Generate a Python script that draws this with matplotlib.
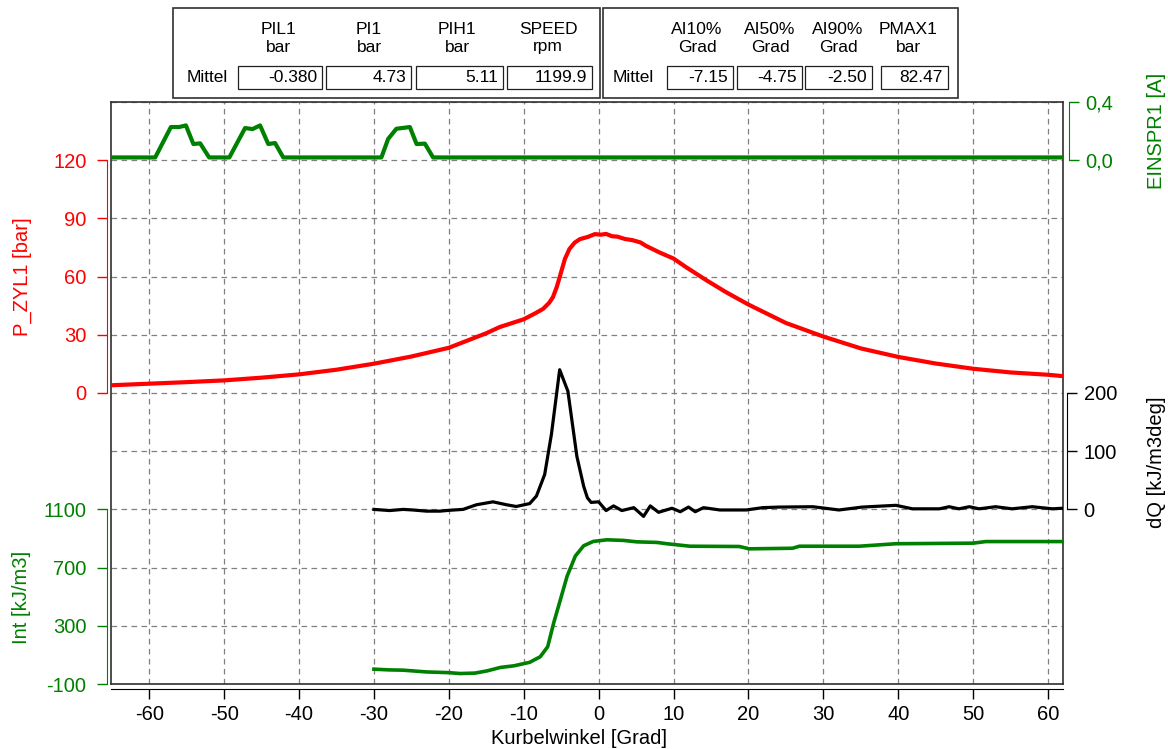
import matplotlib
matplotlib.use("Agg")
import matplotlib.pyplot as plt
from matplotlib.patches import Rectangle
from matplotlib.transforms import Affine2D

# ---------------- data ----------------
# EINSPR1 [A] (injection current)
einspr_x = [-65, -59.2, -57.1, -56.0, -55.1, -54.1, -53.2, -52.0, -49.3, -47.2, -46.2, -45.2,
            -44.1, -43.2, -42.1, -29.0, -28.1, -27.0, -25.2, -24.3, -23.2, -22.1, 62]
einspr_y = [0.019, 0.019, 0.228, 0.228, 0.239, 0.111, 0.116, 0.019, 0.019, 0.221, 0.214, 0.239,
            0.111, 0.118, 0.019, 0.019, 0.146, 0.216, 0.228, 0.111, 0.114, 0.019, 0.019]

# P_ZYL1 [bar]
p_x = [-65, -60, -55, -50, -45, -40, -35, -30, -25, -20, -15, -13.2, -10, -8.5, -7.4, -6.6, -6.1,
       -5.6, -5.2, -4.5, -3.9, -3.2, -2.5, -1.4, -0.5, 0.3, 1.0, 1.8, 2.5, 3.5, 4.5, 5.6, 6.3, 8.1,
       10, 11.7, 14.4, 17, 20, 25, 30, 35, 40, 45, 50, 55, 60, 62]
p_y = [4.0, 4.8, 5.6, 6.5, 7.9, 9.6, 12.0, 15.1, 18.8, 23.3, 30.8, 34.0, 38.0, 41.0, 43.4, 46.5, 49.4,
       54.5, 59.7, 69.1, 74.2, 77.5, 79.3, 80.5, 81.9, 81.6, 82.0, 80.8, 80.6, 79.4, 78.8, 77.6, 75.9, 72.5,
       69.3, 64.8, 58.1, 52.0, 45.6, 36.1, 29.1, 23.0, 18.6, 15.2, 12.5, 10.6, 9.4, 8.7]

# dQ [kJ/m3deg]
dq_x = [-30, -27.9, -26.1, -24.8, -23.0, -21.2, -19.9, -18.1, -16.3, -14.1, -12.3, -11.0, -9.2, -8.3,
        -7.2, -6.3, -5.2, -4.1, -2.9, -2.0, -1.5, -1.0, 0, 1.0, 2.0, 3.1, 4.7, 6.0, 6.9, 8.0, 9.8, 10.9,
        12.0, 12.9, 14.0, 16.2, 19.7, 21.9, 24.1, 28.6, 32.1, 35.2, 39.7, 41.9, 45.5, 46.8, 48.1, 49.5,
        50.8, 53.0, 55.2, 57.9, 60.6, 62]
dq_y = [0, -2, 0, -1, -3, -3, -1.5, 0, 8, 13, 8, 5, 10, 23,
        60, 129, 240, 203, 91, 40, 20, 12, 13, -2, 6, -2, 3, -12, 6, -5, 2, -4,
        4, -4, 3, -1, -1, 3, 4, 4.6, -1, 4, 7, 1, 1, 4.6, 1, 4.6,
        1, 4.6, 1, 4.6, 1, 2]

# Int [kJ/m3]
int_x = [-30, -28, -26.1, -23, -20, -18.5, -16.5, -14.9, -13.1, -11.3, -9.2, -7.8, -6.8, -6.0, -5.1,
         -4.2, -3.1, -2.0, -0.7, 1.1, 3.3, 5.1, 7.8, 9.1, 12.2, 18.8, 20.1, 25.9, 26.8, 34.8, 39.7,
         50.0, 51.7, 62]
int_y = [2, -3, -5, -17, -22, -28, -25, -10, 14, 25, 49, 87, 156, 319, 480,
         642, 780, 850, 880, 891, 887, 877, 873, 864, 847, 845, 829, 833, 847, 847, 864,
         868, 879, 879]

# table
hdr1 = ["PIL1", "PI1", "PIH1", "SPEED"]
unit1 = ["bar", "bar", "bar", "rpm"]
val1 = ["-0.380", "4.73", "5.11", "1199.9"]
hdr2 = ["AI10%", "AI50%", "AI90%", "PMAX1"]
unit2 = ["Grad", "Grad", "Grad", "bar"]
val2 = ["-7.15", "-4.75", "-2.50", "82.47"]

x_ticks = [-60, -50, -40, -30, -20, -10, 0, 10, 20, 30, 40, 50, 60]
p_ticks = [0, 30, 60, 90, 120]
int_ticks = [-100, 300, 700, 1100]
dq_ticks = [0, 100, 200]
einspr_ticks = [0.0, 0.4]
einspr_ticklabels = ["0,0", "0,4"]

# ---------------- style ----------------
plt.rcParams['font.family'] = ['Liberation Sans', 'DejaVu Sans']
plt.rcParams['axes.unicode_minus'] = False
RED = '#FF0000'
GREEN = '#008000'
FS = 14.5

W, H = 1168, 749
fig = plt.figure(figsize=(W / 100, H / 100), dpi=100)
tr = Affine2D().scale(1.0 / W, -1.0 / H).translate(0, 1) + fig.transFigure

L, R, T, B = 111, 1063, 102, 684
rect = [L / W, 1 - B / H, (R - L) / W, (B - T) / H]
XLIM = (-65.1, 62.0)

# frame + grid
ax = fig.add_axes(rect)
ax.set_xlim(*XLIM)
ax.set_ylim(0, 10)
ax.set_xticks(x_ticks)
ax.set_yticks(range(11))
ax.tick_params(length=0, labelbottom=False, labelleft=False)
ax.grid(True, color='#808080', linestyle=(0, (4.5, 3.5)), linewidth=0.9)
for s in ax.spines.values():
    s.set_color('#303030')
    s.set_linewidth(1.2)


def overlay():
    a = fig.add_axes(rect, sharex=ax)
    a.patch.set_visible(False)
    for s in a.spines.values():
        s.set_visible(False)
    a.tick_params(axis='x', which='both', bottom=False, top=False, labelbottom=False)
    return a


# x axis
axx = overlay()
axx.set_yticks([])
axx.spines['bottom'].set_visible(True)
axx.spines['bottom'].set_position(('outward', 3.6))
axx.spines['bottom'].set_color('black')
axx.tick_params(axis='x', bottom=True, labelbottom=True, length=7.5, width=1,
                direction='out', pad=4, labelsize=FS)
axx.set_xticks(x_ticks)
axx.set_xlim(*XLIM)

# P_ZYL1
axp = overlay()
axp.set_ylim(-150, 150)
axp.plot(p_x, p_y, color=RED, lw=3.0, solid_joinstyle='round')
axp.spines['left'].set_visible(True)
axp.spines['left'].set_position(('outward', 2.9))
axp.spines['left'].set_bounds(0, 120)
axp.spines['left'].set_color(RED)
axp.set_yticks(p_ticks)
axp.tick_params(axis='y', colors=RED, length=7.2, width=1, pad=7.5, labelsize=FS)

# Int
axi = overlay()
axi.set_ylim(-100, 3900)
axi.plot(int_x, int_y, color=GREEN, lw=2.6)
axi.spines['left'].set_visible(True)
axi.spines['left'].set_position(('outward', 2.9))
axi.spines['left'].set_bounds(-100, 1100)
axi.spines['left'].set_color(GREEN)
axi.set_yticks(int_ticks)
axi.tick_params(axis='y', colors=GREEN, length=7.2, width=1, pad=7.5, labelsize=FS)

# dQ
axq = overlay()
axq.set_ylim(-300, 700)
axq.plot(dq_x, dq_y, color='black', lw=2.3)
axq.yaxis.tick_right()
axq.spines['right'].set_visible(True)
axq.spines['right'].set_position(('outward', 2.9))
axq.spines['right'].set_bounds(0, 200)
axq.spines['right'].set_color('black')
axq.set_yticks(dq_ticks)
axq.tick_params(axis='y', colors='black', length=7.2, width=1, pad=4.8, labelsize=FS)

# EINSPR1
axe = overlay()
axe.set_ylim(-3.6, 0.4)
axe.plot(einspr_x, einspr_y, color=GREEN, lw=3.0)
axe.yaxis.tick_right()
axe.spines['right'].set_visible(True)
axe.spines['right'].set_position(('outward', 4.3))
axe.spines['right'].set_bounds(0, 0.4)
axe.spines['right'].set_color(GREEN)
axe.set_yticks(einspr_ticks)
axe.set_yticklabels(einspr_ticklabels)
axe.tick_params(axis='y', colors=GREEN, length=7.2, width=1, pad=4.8, labelsize=FS)

# axis titles
fig.text(22, 277, "P_ZYL1 [bar]", transform=tr, rotation=90, ha='center', va='center',
         color=RED, fontsize=FS)
fig.text(22, 597, "Int [kJ/m3]", transform=tr, rotation=90, ha='center', va='center',
         color=GREEN, fontsize=FS)
fig.text(1156, 131, "EINSPR1 [A]", transform=tr, rotation=90, ha='center', va='center',
         color=GREEN, fontsize=FS)
fig.text(1156, 462, "dQ [kJ/m3deg]", transform=tr, rotation=90, ha='center', va='center',
         color='black', fontsize=FS)
fig.text(579, 738, "Kurbelwinkel [Grad]", transform=tr, ha='center', va='center',
         color='black', fontsize=FS)

# ---------------- table ----------------
TFS = 12.5


def draw_box(x0, x1, mittel_x, centers, cells, hdr, unit, val):
    fig.patches.append(Rectangle((x0, 8), x1 - x0, 90, transform=tr, fill=False,
                                 edgecolor='#303030', linewidth=1.2))
    fig.text(mittel_x, 77, "Mittel", transform=tr, ha='center', va='center', fontsize=TFS)
    for c, h, u, v, (cl, cr) in zip(centers, hdr, unit, val, cells):
        fig.text(c, 30, h, transform=tr, ha='center', va='center', fontsize=TFS)
        fig.text(c, 47, u, transform=tr, ha='center', va='center', fontsize=TFS)
        fig.patches.append(Rectangle((cl, 66), cr - cl, 23, transform=tr, fill=False,
                                     edgecolor='#202020', linewidth=0.9))
        fig.text(cr - 5, 77.5, v, transform=tr, ha='right', va='center', fontsize=TFS)


draw_box(173, 600, 207, [278, 369, 457, 548],
         [(238, 322), (326, 411), (416, 503), (507, 592)], hdr1, unit1, val1)
draw_box(603, 958, 633, [697, 770, 838, 908],
         [(667, 733), (737, 802), (805, 872), (881, 948)], hdr2, unit2, val2)

fig.savefig("out.png", dpi=100)
